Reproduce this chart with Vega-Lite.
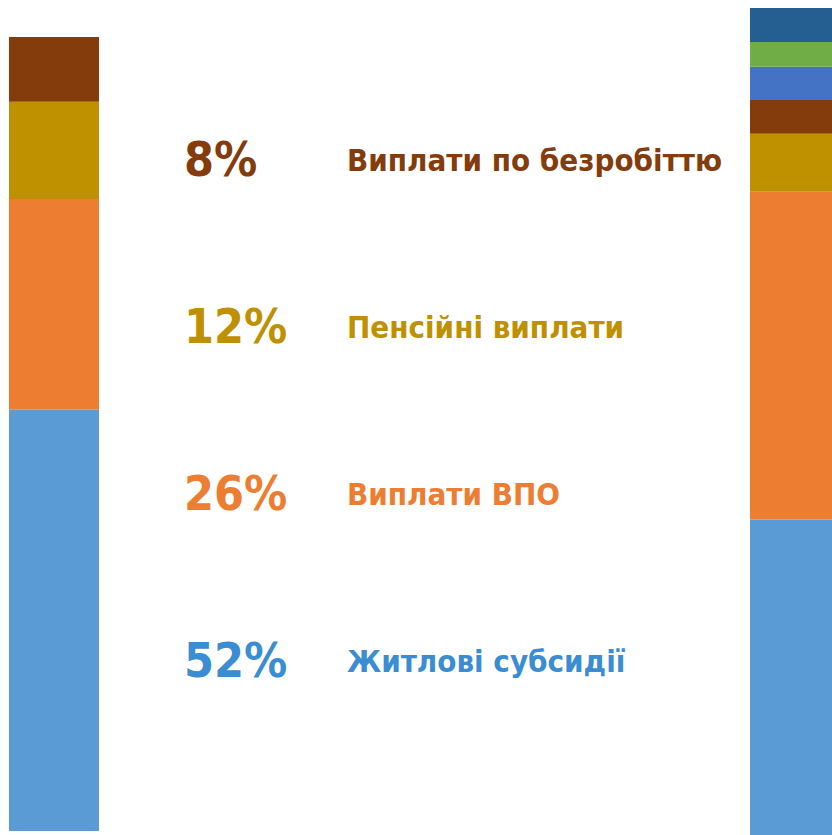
{
  "$schema": "https://vega.github.io/schema/vega-lite/v6.json",
  "background": "white",
  "bounds": "flush",
  "padding": {"left": 9, "top": 0, "right": 0, "bottom": 0},
  "config": {"view": {"stroke": null}},
  "data": {
    "values": [
      {"bar": "left", "category": "Житлові субсидії", "value": 52, "pct": "52%", "order": 1},
      {"bar": "left", "category": "Виплати ВПО", "value": 26, "pct": "26%", "order": 2},
      {"bar": "left", "category": "Пенсійні виплати", "value": 12, "pct": "12%", "order": 3},
      {"bar": "left", "category": "Виплати по безробіттю", "value": 8, "pct": "8%", "order": 4},
      {"bar": "right", "category": "Житлові субсидії", "value": 38.1, "order": 1},
      {"bar": "right", "category": "Виплати ВПО", "value": 39.6, "order": 2},
      {"bar": "right", "category": "Пенсійні виплати", "value": 7.0, "order": 3},
      {"bar": "right", "category": "Виплати по безробіттю", "value": 4.1, "order": 4},
      {"bar": "right", "category": "Інше 1", "value": 4.0, "order": 5},
      {"bar": "right", "category": "Інше 2", "value": 3.0, "order": 6},
      {"bar": "right", "category": "Інше 3", "value": 4.1, "order": 7}
    ]
  },
  "hconcat": [
    {
      "width": 90,
      "height": 831,
      "transform": [{"filter": "datum.bar === 'left'"}],
      "mark": {"type": "bar", "stroke": null},
      "encoding": {
        "x": {"field": "bar", "type": "nominal", "scale": {"paddingInner": 0, "paddingOuter": 0}, "axis": null},
        "y": {"field": "value", "type": "quantitative", "stack": "zero", "scale": {"domain": [0, 102.57], "nice": false, "zero": false}, "axis": null},
        "order": {"field": "order", "type": "quantitative"},
        "color": {
          "field": "category", "type": "nominal", "legend": null,
          "scale": {
            "domain": ["Житлові субсидії", "Виплати ВПО", "Пенсійні виплати", "Виплати по безробіттю", "Інше 1", "Інше 2", "Інше 3"],
            "range": ["#5B9BD5", "#ED7D31", "#BF9000", "#843C0C", "#4472C4", "#70AD47", "#255E91"]
          }
        }
      }
    },
    {
      "bounds": "flush",
      "hconcat": [
        {
          "width": 163,
          "height": 835,
          "transform": [{"filter": "datum.bar === 'left'"}],
          "encoding": {
            "y": {
              "field": "category", "type": "nominal",
              "sort": ["Виплати по безробіттю", "Пенсійні виплати", "Виплати ВПО", "Житлові субсидії"],
              "scale": {"type": "point", "padding": 1}, "axis": null
            },
            "color": {
              "field": "category", "type": "nominal", "legend": null,
              "scale": {
                "domain": ["Житлові субсидії", "Виплати ВПО", "Пенсійні виплати", "Виплати по безробіттю"],
                "range": ["#3A8DD3", "#ED7D31", "#BF9000", "#843C0C"]
              }
            }
          },
          "layer": [
            {
              "mark": {"type": "text", "align": "left", "baseline": "middle", "dy": -5, "font": "DejaVu Sans Condensed", "fontWeight": "bold", "fontSize": 48},
              "encoding": {
                "x": {"datum": "pct", "type": "nominal", "scale": {"type": "point", "domain": ["pct", "label"], "padding": 0}, "axis": null},
                "text": {"field": "pct"}
              }
            },
            {
              "mark": {"type": "text", "align": "left", "baseline": "middle", "dy": -5, "font": "DejaVu Sans Condensed", "fontWeight": "bold", "fontSize": 31},
              "encoding": {
                "x": {"datum": "label", "type": "nominal"},
                "text": {"field": "category"}
              }
            }
          ]
        },
        {
          "width": 82,
          "height": 835,
          "transform": [{"filter": "datum.bar === 'right'"}],
          "mark": {"type": "bar", "stroke": null},
          "encoding": {
            "x": {"field": "bar", "type": "nominal", "scale": {"paddingInner": 0, "paddingOuter": 0}, "axis": null},
            "y": {"field": "value", "type": "quantitative", "stack": "zero", "scale": {"domain": [0, 100.87], "nice": false, "zero": false}, "axis": null},
            "order": {"field": "order", "type": "quantitative"},
            "color": {
              "field": "category", "type": "nominal", "legend": null,
              "scale": {
                "domain": ["Житлові субсидії", "Виплати ВПО", "Пенсійні виплати", "Виплати по безробіттю", "Інше 1", "Інше 2", "Інше 3"],
                "range": ["#5B9BD5", "#ED7D31", "#BF9000", "#843C0C", "#4472C4", "#70AD47", "#255E91"]
              }
            }
          }
        }
      ],
      "spacing": 403,
      "resolve": {"scale": {"color": "independent", "y": "independent", "x": "independent"}}
    }
  ],
  "spacing": 85,
  "resolve": {"scale": {"color": "independent", "y": "independent", "x": "independent"}}
}
